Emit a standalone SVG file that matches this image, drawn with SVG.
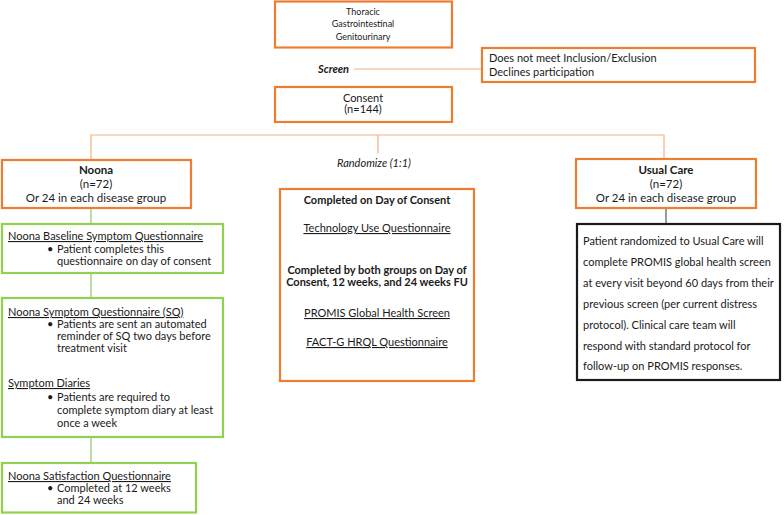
<svg xmlns="http://www.w3.org/2000/svg" width="784" height="515" viewBox="0 0 784 515">
<style>
text{font-family:Lato,"Liberation Sans",sans-serif;font-size:11px;fill:#1a1a1a}
.o{fill:#fff;stroke:#ed7d31;stroke-width:2.2}
.g{fill:#fff;stroke:#92d050;stroke-width:2.2}
.k{fill:#fff;stroke:#1a1a1a;stroke-width:2.2}
.c{text-anchor:middle}
.b{font-weight:bold}
.u{text-decoration:underline}
.s{font-size:9px}
.m{font-size:11.5px}
.lo{stroke:#f4b183;stroke-width:1.2;fill:none}
.lg{stroke:#a9d18e;stroke-width:1.5;fill:none}
.lk{stroke:#595959;stroke-width:1.2;fill:none}
</style>
<g id="connectors">
<line class="lo" x1="354" y1="69" x2="482" y2="69"/>
<polyline class="lo" points="91,160 91,135 664,135 664,159"/>
<line class="lo" x1="378" y1="135" x2="378" y2="153"/>
<line class="lg" x1="91" y1="208" x2="91" y2="224"/>
<line class="lg" x1="91" y1="273" x2="91" y2="298"/>
<line class="lg" x1="91" y1="437" x2="91" y2="463"/>
<line class="lk" x1="666" y1="208" x2="666" y2="224"/>
</g>
<g id="groups">
<rect class="o" x="275" y="1.5" width="177" height="46"/>
<text class="c s" x="363" y="15">Thoracic</text>
<text class="c s" x="363" y="27">Gastrointestinal</text>
<text class="c s" x="363" y="39.5">Genitourinary</text>
</g>
<g id="screen-label">
<text class="b" x="318" y="72.5" font-style="italic" font-size="9.8px">Screen</text>
</g>
<g id="excluded">
<rect class="o" x="482" y="48" width="273" height="34"/>
<text x="489" y="62">Does not meet Inclusion/Exclusion</text>
<text x="489" y="76">Declines participation</text>
</g>
<g id="consent">
<rect class="o" x="275" y="87" width="177" height="35"/>
<text class="c" x="363" y="101.5">Consent</text>
<text class="c" x="363" y="113">(n=144)</text>
</g>
<g id="randomize-label">
<text x="337" y="167" font-style="italic" font-size="11.5px">Randomize (1:1)</text>
</g>
<g id="noona">
<rect class="o" x="2" y="160" width="189" height="48"/>
<text class="c b m" x="96" y="174">Noona</text>
<text class="c m" x="96" y="188">(n=72)</text>
<text class="c m" x="96" y="201.5">Or 24 in each disease group</text>
</g>
<g id="usual-care">
<rect class="o" x="576" y="159" width="180" height="49"/>
<text class="c b m" x="666" y="174">Usual Care</text>
<text class="c m" x="666" y="188">(n=72)</text>
<text class="c m" x="666" y="201.5">Or 24 in each disease group</text>
</g>
<g id="both-groups">
<rect class="o" x="280" y="189" width="194" height="192"/>
<text class="c b" x="377" y="204">Completed on Day of Consent</text>
<text class="c u" x="377" y="232">Technology Use Questionnaire</text>
<text class="c b" x="377" y="273.5">Completed by both groups on Day of</text>
<text class="c b" x="377" y="286">Consent, 12 weeks, and 24 weeks FU</text>
<text class="c u" x="377" y="317">PROMIS Global Health Screen</text>
<text class="c u" x="377" y="346">FACT-G HRQL Questionnaire</text>
</g>
<g id="baseline-sq">
<rect class="g" x="2" y="224" width="221" height="49"/>
<text class="u" x="8" y="240">Noona Baseline Symptom Questionnaire</text>
<text x="47" y="252.5">•</text>
<text x="57" y="252.5">Patient completes this</text>
<text x="57" y="264.5">questionnaire on day of consent</text>
</g>
<g id="symptom-sq">
<rect class="g" x="2" y="298" width="221" height="139"/>
<text class="u" x="8" y="316">Noona Symptom Questionnaire (SQ)</text>
<text x="47" y="328">•</text>
<text x="57" y="328">Patients are sent an automated</text>
<text x="57" y="340">reminder of SQ two days before</text>
<text x="57" y="352">treatment visit</text>
<text class="u" x="8" y="387">Symptom Diaries</text>
<text x="47" y="401">•</text>
<text x="57" y="401">Patients are required to</text>
<text x="57" y="414">complete symptom diary at least</text>
<text x="57" y="427">once a week</text>
</g>
<g id="satisfaction">
<rect class="g" x="2" y="463" width="194" height="49.5"/>
<text class="u" x="8" y="480">Noona Satisfaction Questionnaire</text>
<text x="47" y="492">•</text>
<text x="57" y="492">Completed at 12 weeks</text>
<text x="57" y="504">and 24 weeks</text>
</g>
<g id="usual-care-detail">
<rect class="k" x="577" y="224" width="203" height="156"/>
<text x="583" y="245">Patient randomized to Usual Care will</text>
<text x="583" y="266">complete PROMIS global health screen</text>
<text x="583" y="287">at every visit beyond 60 days from their</text>
<text x="583" y="308">previous screen (per current distress</text>
<text x="583" y="329">protocol).  Clinical care team will</text>
<text x="583" y="350">respond with standard protocol  for</text>
<text x="583" y="370">follow-up on PROMIS responses.</text>
</g>
</svg>
